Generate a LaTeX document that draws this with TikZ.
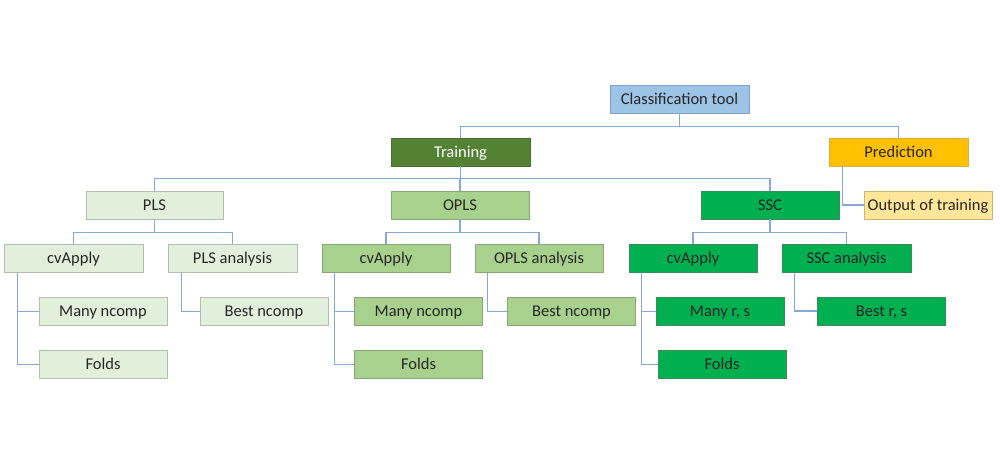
\documentclass[tikz,border=0pt]{standalone}
\usepackage{fontspec}
\setmainfont{Carlito}
\begin{document}
\begin{tikzpicture}[x=1pt,y=-1pt,
  box/.style={draw=#1, line width=0.9pt, minimum height=28pt, inner sep=0pt, text height=12pt, text depth=1.6pt, font=\fontsize{16.5}{19}\selectfont, text=black!85},
  conn/.style={draw=linkc, line width=1.3pt},
  w139/.style={minimum width=139pt},
  w128/.style={minimum width=128pt}]
\definecolor{linkc}{HTML}{86A8D6}
\definecolor{ctf}{HTML}{9DC3E6}\definecolor{ctd}{HTML}{7F9FC8}
\definecolor{trf}{HTML}{548235}\definecolor{trd}{HTML}{4A6F30}
\definecolor{prf}{HTML}{FFC000}\definecolor{prd}{HTML}{D9B040}
\definecolor{otf}{HTML}{FFE699}\definecolor{otd}{HTML}{C9B57A}
\definecolor{plf}{HTML}{E2EFDA}\definecolor{pld}{HTML}{B4BDAE}
\definecolor{opf}{HTML}{A9D18E}\definecolor{opd}{HTML}{8AA478}
\definecolor{ssf}{HTML}{00B050}\definecolor{ssd}{HTML}{3A8A5A}
\useasboundingbox (0,0) rectangle (1000,465);
\fill[white] (0,0) rectangle (1000,465);
% level 0-2
\node[box=ctd, fill=ctf, w139] (ct) at (679.5,99) {Classification tool};
\node[box=trd, fill=trf, w139, text=white] (tr) at (460.5,152) {Training};
\node[box=prd, fill=prf, w139] (pr) at (898.5,152) {Prediction};
\node[box=pld, fill=plf, minimum width=137pt] (pls) at (154.5,205) {PLS};
\node[box=opd, fill=opf, minimum width=138pt] (opls) at (460,205) {OPLS};
\node[box=ssd, fill=ssf, minimum width=138pt] (ssc) at (770,205) {SSC};
\node[box=otd, fill=otf, w128] (out) at (928,205) {Output of training};
% level 3
\node[box=pld, fill=plf, w139] (pcv) at (73.5,258.5) {cvApply};
\node[box=pld, fill=plf, minimum width=129pt] (pan) at (232.5,258.5) {PLS analysis};
\node[box=opd, fill=opf, w128] (ocv) at (386,258.5) {cvApply};
\node[box=opd, fill=opf, w128] (oan) at (539,258.5) {OPLS analysis};
\node[box=ssd, fill=ssf, w128] (scv) at (693,258.5) {cvApply};
\node[box=ssd, fill=ssf, minimum width=129pt] (san) at (846.5,258.5) {SSC analysis};
% level 4
\node[box=pld, fill=plf, w128] (pmany) at (103,311.5) {Many ncomp};
\node[box=pld, fill=plf, w128] (pfold) at (103,364.5) {Folds};
\node[box=pld, fill=plf, w128] (pbest) at (264,311.5) {Best ncomp};
\node[box=opd, fill=opf, w128] (omany) at (418.5,311.5) {Many ncomp};
\node[box=opd, fill=opf, w128] (ofold) at (418.5,364.5) {Folds};
\node[box=opd, fill=opf, w128] (obest) at (571.5,311.5) {Best ncomp};
\node[box=ssd, fill=ssf, w128] (smany) at (720,311.5) {Many r, s};
\node[box=ssd, fill=ssf, w128] (sfold) at (722,364.5) {Folds};
\node[box=ssd, fill=ssf, w128] (sbest) at (881.5,311) {Best r, s};
% connectors
\draw[conn] (ct.south) -- ++(0,13) -| (tr.north);
\draw[conn] (ct.south) -- ++(0,13) -| (pr.north);
\draw[conn] (tr.south) -- ++(0,12) -| (pls.north);
\draw[conn] (tr.south) -- ++(0,12) -| (opls.north);
\draw[conn] (tr.south) -- ++(0,12) -| (ssc.north);
\draw[conn] ([xshift=14pt]pr.south west) |- (out.west);
\draw[conn] (pls.south) -- ++(0,13) -| (pcv.north);
\draw[conn] (pls.south) -- ++(0,13) -| (pan.north);
\draw[conn] (opls.south) -- ++(0,13) -| (ocv.north);
\draw[conn] (opls.south) -- ++(0,13) -| (oan.north);
\draw[conn] (ssc.south) -- ++(0,13) -| (scv.north);
\draw[conn] (ssc.south) -- ++(0,13) -| (san.north);
\draw[conn] ([xshift=14pt]pcv.south west) |- (pmany.west);
\draw[conn] ([xshift=14pt]pcv.south west) |- (pfold.west);
\draw[conn] ([xshift=14pt]pan.south west) |- (pbest.west);
\draw[conn] ([xshift=13pt]ocv.south west) |- (omany.west);
\draw[conn] ([xshift=13pt]ocv.south west) |- (ofold.west);
\draw[conn] ([xshift=13pt]oan.south west) |- (obest.west);
\draw[conn] ([xshift=13pt]scv.south west) |- (smany.west);
\draw[conn] ([xshift=13pt]scv.south west) |- (sfold.west);
\draw[conn] ([xshift=13pt]san.south west) |- (sbest.west);
\end{tikzpicture}
\end{document}
